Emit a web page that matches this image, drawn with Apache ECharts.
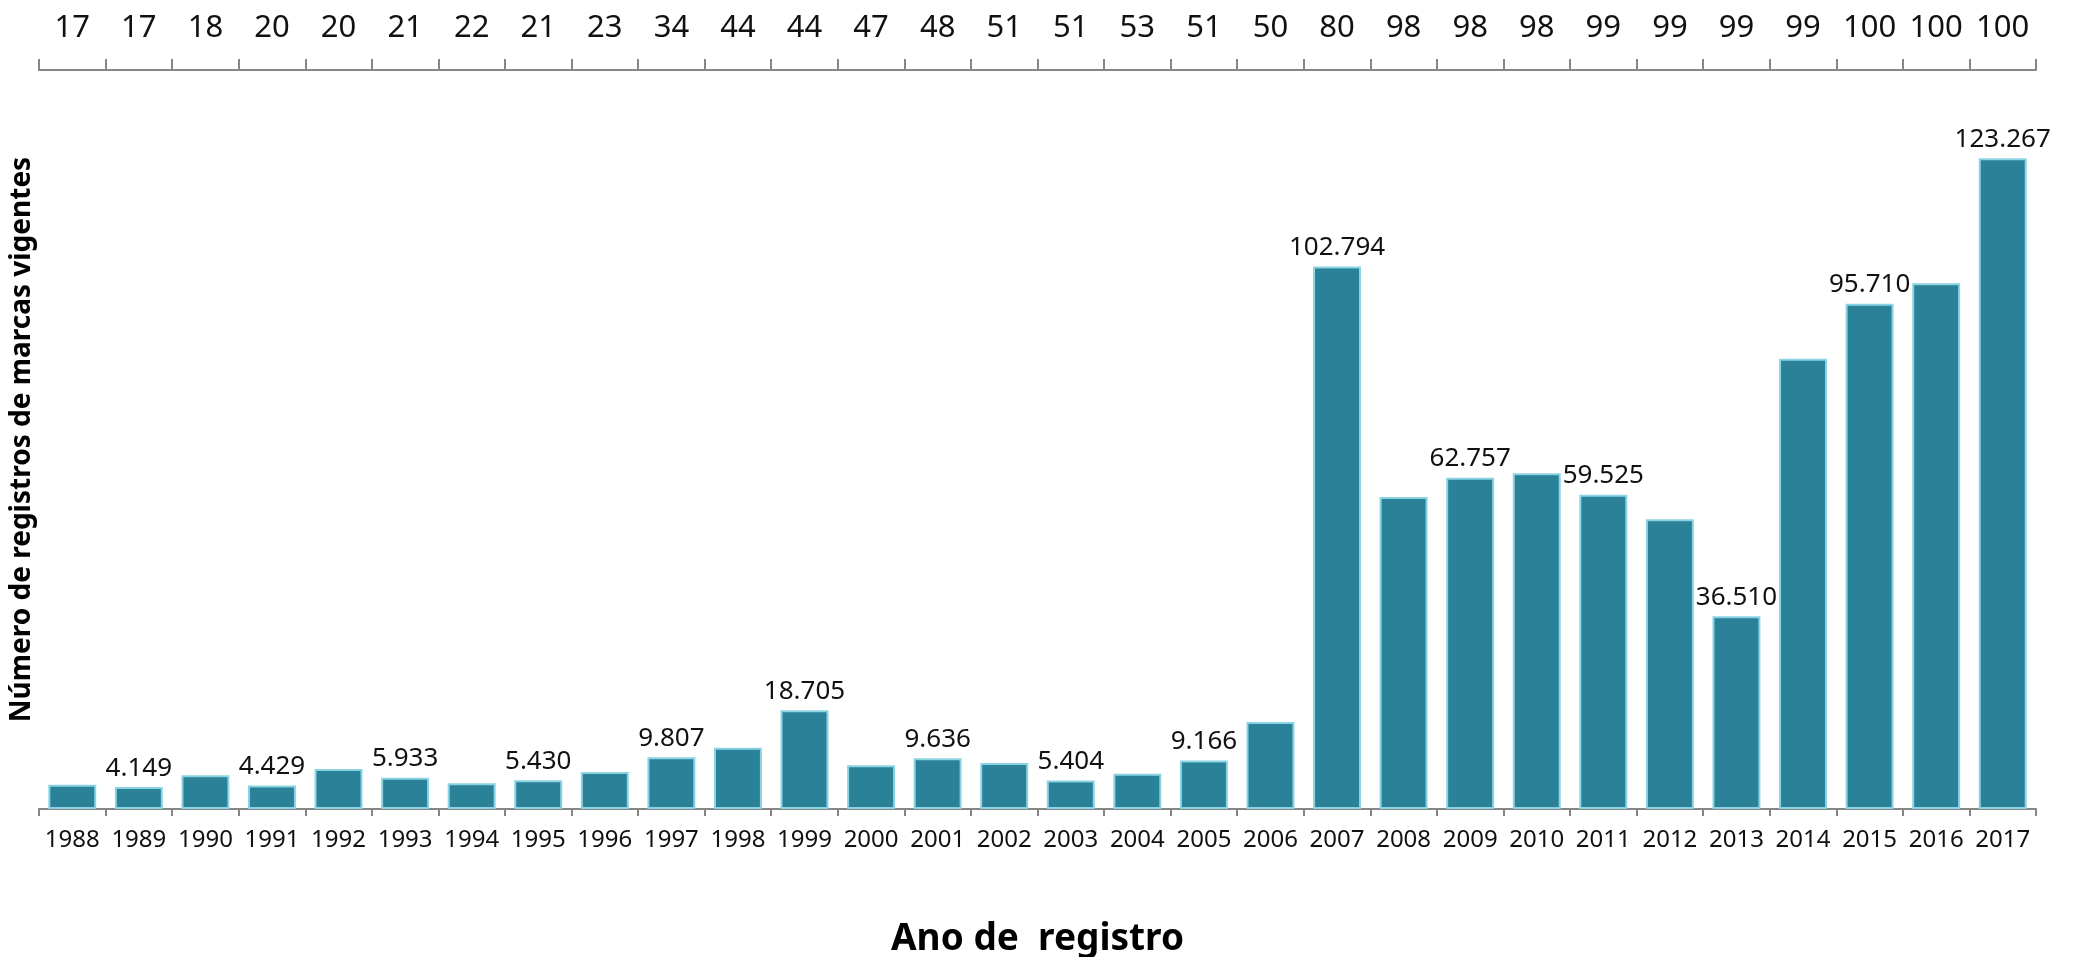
<!DOCTYPE html>
<html>
<head>
<meta charset="utf-8">
<title>Registros de marcas vigentes</title>
<script src="https://cdn.jsdelivr.net/npm/echarts@6/dist/echarts.min.js"></script>
<style>
  html, body { margin: 0; padding: 0; background: #fff; }
  #chart { width: 2073px; height: 957px; }
</style>
</head>
<body>
<div id="chart"></div>
<script>
// anos de registro (eixo inferior)
const anos = [1988, 1989, 1990, 1991, 1992, 1993, 1994, 1995, 1996, 1997,
  1998, 1999, 2000, 2001, 2002, 2003, 2004, 2005, 2006, 2007,
  2008, 2009, 2010, 2011, 2012, 2013, 2014, 2015, 2016, 2017];
// número de registros de marcas vigentes
const registros = [4600, 4149, 6400, 4429, 7600, 5933, 4900, 5430, 7000, 9807,
  11600, 18705, 8300, 9636, 8700, 5404, 6700, 9166, 16500, 102794,
  59100, 62757, 63600, 59525, 54900, 36510, 85300, 95710, 99600, 123267];
// números do eixo superior
const topo = [17, 17, 18, 20, 20, 21, 22, 21, 23, 34, 44, 44, 47, 48, 51,
  51, 53, 51, 50, 80, 98, 98, 98, 99, 99, 99, 99, 100, 100, 100];

// separador de milhar com ponto
function fmt(v) {
  return String(v).replace(/\B(?=(\d{3})+(?!\d))/g, ".");
}

const fonte = "'Noto Sans', 'Open Sans', sans-serif";

const chart = echarts.init(document.getElementById("chart"));
chart.setOption({
  animation: false,
  grid: { left: 39, right: 37, top: 70, bottom: 148, outerBoundsMode: "none" },
  xAxis: [
    {
      type: "category",
      data: anos,
      position: "bottom",
      name: "Ano de  registro",
      nameLocation: "middle",
      nameGap: 112,
      nameTextStyle: { fontFamily: fonte, fontSize: 37, fontWeight: "bold", color: "#000" },
      axisLine: { lineStyle: { color: "#868686", width: 2 } },
      axisTick: { show: true, length: 7, lineStyle: { color: "#868686", width: 2 } },
      axisLabel: { fontFamily: fonte, fontSize: 24, color: "#111", margin: 19, interval: 0 },
    },
    {
      type: "category",
      data: topo,
      position: "top",
      axisLine: { lineStyle: { color: "#868686", width: 2 } },
      axisTick: { show: true, length: 11, lineStyle: { color: "#868686", width: 2 } },
      axisLabel: { fontFamily: fonte, fontSize: 31, color: "#111", margin: 26, interval: 0 },
    },
  ],
  yAxis: {
    type: "value",
    min: 0,
    max: 140000,
    name: "Número de registros de marcas vigentes",
    nameLocation: "middle",
    nameRotate: 90,
    nameGap: 3,
    nameTextStyle: { fontFamily: fonte, fontSize: 28, fontWeight: "bold", color: "#000" },
    axisLine: { show: false },
    axisTick: { show: false },
    axisLabel: { show: false },
    splitLine: { show: false },
  },
  series: [
    {
      type: "bar",
      xAxisIndex: 0,
      barCategoryGap: "28%",
      data: registros.map((v, i) => ({
        value: v,
        label: { show: anos[i] % 2 === 1 },
      })),
      itemStyle: { color: "#2a8198", borderColor: "#8ad3e3", borderWidth: 2 },
      label: {
        position: "top",
        distance: 6,
        fontFamily: fonte,
        fontSize: 26,
        color: "#111",
        formatter: (p) => fmt(p.value),
      },
    },
  ],
});
</script>
</body>
</html>
